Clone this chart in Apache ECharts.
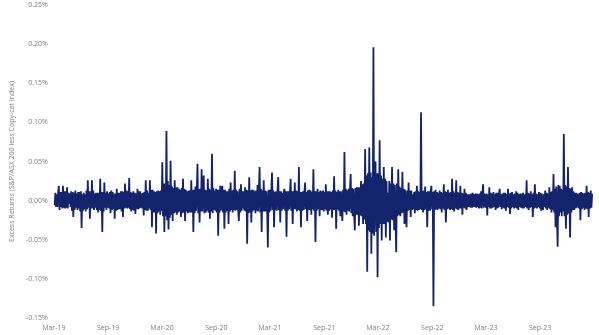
<!DOCTYPE html>
<html>
<head>
<meta charset="utf-8">
<script src="https://cdn.jsdelivr.net/npm/echarts@6/dist/echarts.min.js"></script>
<style>
html,body{margin:0;padding:0;background:#fff;}
#chart{width:599px;height:335px;}
</style>
</head>
<body>
<div id="chart"></div>
<script>
// Excess returns (%), three readings per week (start, early, late),
// first week starting 2019-03-04
const startDate = '2019-03-04';
const returns2019 = [
 -0.006, 0.008, 0.019, -0.008, 0.019, -0.010, 0.017, -0.004, 0.012, -0.021,
  0.013, -0.012, 0.011, -0.035, 0.010, -0.014, 0.026, -0.023, 0.026, -0.012,
  0.010, -0.015, 0.028, -0.040, 0.023, -0.012, 0.009, -0.016, 0.011, -0.023,
  0.015, -0.011, 0.012, -0.021, 0.022, -0.010, 0.029, -0.014, 0.012, -0.017,
  0.015, -0.010, 0.009, -0.019, 0.026, -0.013, 0.026, -0.034, 0.012, -0.042,
  0.013, -0.018
];
const early2019 = [
  0.010, -0.008, -0.012, 0.011, -0.009, 0.012, -0.010, 0.009, -0.013, 0.010,
 -0.009, 0.011, -0.014, 0.008, -0.011, 0.013, -0.009, 0.012, -0.010, 0.009,
 -0.012, 0.010, -0.013, 0.011, -0.009, 0.012, -0.010, 0.013, -0.011, 0.009,
 -0.012, 0.010, -0.014, 0.011, -0.009, 0.012, -0.011, 0.010, -0.013, 0.009,
 -0.011, 0.012, -0.010, 0.011, -0.013, 0.010, -0.012, 0.014, -0.015, 0.012,
 -0.014, 0.013
];
const late2019 = [
 -0.008, 0.009, 0.011, -0.010, 0.012, -0.009, 0.010, -0.008, 0.011, -0.012,
  0.009, -0.010, 0.012, -0.013, 0.008, -0.011, 0.012, -0.010, 0.013, -0.009,
  0.010, -0.012, 0.011, -0.014, 0.010, -0.009, 0.011, -0.012, 0.009, -0.013,
  0.010, -0.011, 0.012, -0.010, 0.013, -0.009, 0.011, -0.012, 0.010, -0.011,
  0.012, -0.009, 0.010, -0.012, 0.013, -0.010, 0.014, -0.015, 0.011, -0.016,
  0.012, -0.013
];
const returns2020 = [
  0.049, -0.040, 0.089, -0.037, 0.051, -0.026, 0.026, -0.018, 0.015, -0.021,
  0.028, -0.026, 0.012, -0.015, 0.026, -0.040, 0.018, 0.047, -0.028, 0.040,
  0.032, -0.015, 0.028, -0.023, 0.060, -0.012, 0.015, -0.045, 0.019, 0.019,
 -0.036, 0.012, -0.030, 0.023, -0.015, 0.038, -0.012, -0.026, 0.021, -0.010,
  0.017, -0.055, 0.030, -0.028, 0.014, -0.016, 0.020, 0.043, -0.040, 0.026,
 -0.014, -0.060
];
const early2020 = [
 -0.020, 0.022, -0.025, 0.020, -0.018, 0.016, -0.015, 0.017, -0.014, 0.016,
 -0.015, 0.014, -0.016, 0.013, -0.015, 0.014, -0.013, -0.016, 0.015, -0.014,
 -0.016, 0.013, -0.015, 0.014, -0.016, 0.013, -0.015, 0.014, -0.013, -0.015,
  0.014, -0.013, 0.015, -0.012, 0.014, -0.013, 0.012, 0.015, -0.013, 0.012,
 -0.014, 0.013, -0.015, 0.014, -0.012, 0.013, -0.014, -0.015, 0.013, -0.014,
  0.012, 0.014
];
const late2020 = [
  0.022, -0.020, 0.025, -0.022, 0.018, -0.016, 0.017, -0.015, 0.014, -0.016,
  0.015, -0.014, 0.013, -0.015, 0.014, -0.016, 0.013, 0.015, -0.014, 0.016,
  0.014, -0.013, 0.015, -0.014, 0.016, -0.013, 0.014, -0.015, 0.013, 0.014,
 -0.015, 0.012, -0.014, 0.013, -0.012, 0.014, -0.013, -0.015, 0.012, -0.013,
  0.014, -0.016, 0.013, -0.014, 0.012, -0.013, 0.014, 0.015, -0.014, 0.013,
 -0.012, -0.015
];
const returns2021 = [
  0.014, 0.036, -0.034, 0.012, 0.030, -0.028, 0.010, 0.015, -0.046, 0.012,
  0.028, -0.030, 0.023, -0.014, 0.043, -0.034, 0.012, 0.023, -0.026, 0.014,
 -0.018, 0.040, -0.053, 0.015, -0.020, 0.012, -0.014, 0.021, -0.018, 0.012,
 -0.022, 0.031, -0.036, 0.014, -0.020, -0.026, 0.062, -0.018, 0.015, 0.034,
 -0.020, -0.038, 0.017, -0.032, 0.025, -0.030, 0.066, -0.091, 0.068, -0.068,
  0.196, 0.050
];
const early2021 = [
 -0.013, -0.012, 0.011, -0.013, -0.012, 0.012, -0.011, -0.013, 0.012, -0.011,
 -0.013, 0.012, -0.011, 0.012, -0.013, 0.011, -0.012, -0.011, 0.013, -0.012,
  0.011, -0.013, 0.012, -0.011, 0.013, -0.012, 0.011, -0.013, 0.012, -0.011,
  0.013, -0.012, 0.011, -0.013, 0.012, 0.014, -0.015, 0.013, -0.014, -0.016,
  0.015, 0.016, -0.018, 0.017, -0.020, 0.022, -0.030, 0.035, -0.040, 0.030,
 -0.045, -0.040
];
const late2021 = [
  0.012, 0.013, -0.012, 0.011, 0.012, -0.013, 0.011, 0.012, -0.013, 0.011,
  0.012, -0.011, 0.013, -0.012, 0.011, -0.013, 0.012, 0.011, -0.012, 0.013,
 -0.011, 0.012, -0.013, 0.011, -0.012, 0.013, -0.011, 0.012, -0.013, 0.011,
 -0.012, 0.013, -0.011, 0.012, -0.013, -0.014, 0.015, -0.013, 0.014, 0.016,
 -0.016, -0.018, 0.017, -0.019, 0.021, -0.024, 0.032, -0.038, 0.036, -0.042,
  0.040, 0.035
];
const returns2022 = [
 -0.098, 0.077, -0.051, 0.043, -0.047, 0.010, -0.051, 0.043, -0.038, -0.066,
  0.040, -0.020, 0.037, -0.030, -0.034, 0.023, -0.021, 0.008, -0.016, 0.019,
 -0.012, 0.113, -0.015, 0.018, -0.034, 0.012, 0.019, -0.135, 0.014, -0.012,
  0.013, -0.015, 0.021, -0.028, 0.014, -0.012, 0.028, -0.014, 0.026, -0.012,
  0.019, -0.018, 0.015, -0.012, 0.008, -0.009, 0.010, -0.008, 0.009, -0.010,
  0.012, 0.021
];
const early2022 = [
  0.035, -0.030, 0.028, -0.030, 0.025, -0.028, 0.022, -0.025, 0.020, 0.022,
 -0.018, 0.016, -0.015, 0.014, 0.013, -0.012, 0.013, -0.011, 0.012, -0.013,
  0.011, -0.012, 0.013, -0.011, 0.012, -0.013, -0.011, 0.012, -0.011, 0.010,
 -0.011, 0.010, -0.012, 0.011, -0.010, 0.011, -0.012, 0.010, -0.011, 0.010,
 -0.010, 0.009, -0.010, 0.008, -0.008, 0.009, -0.008, 0.009, -0.008, 0.009,
 -0.010, -0.009
];
const late2022 = [
 -0.035, 0.032, -0.030, 0.028, -0.027, 0.025, -0.024, 0.022, -0.021, -0.020,
  0.018, -0.016, 0.015, -0.014, -0.013, 0.013, -0.012, 0.011, -0.012, 0.012,
 -0.011, 0.012, -0.012, 0.011, -0.013, 0.012, 0.011, -0.012, 0.011, -0.010,
  0.011, -0.010, 0.012, -0.011, 0.010, -0.011, 0.012, -0.010, 0.011, -0.010,
  0.010, -0.009, 0.010, -0.008, 0.008, -0.009, 0.008, -0.009, 0.008, -0.009,
  0.010, 0.009
];
const returns2023 = [
  0.008, -0.019, 0.017, -0.010, 0.011, -0.012, 0.010, 0.015, -0.011, 0.010,
 -0.013, 0.015, -0.017, 0.011, -0.010, 0.012, -0.012, 0.009, -0.010, -0.008,
  0.026, -0.012, 0.012, -0.021, 0.021, -0.010, 0.011, -0.013, -0.012, 0.013,
 -0.012, 0.017, -0.015, 0.034, -0.034, -0.059, 0.019, -0.020, 0.085, -0.036,
  0.043, -0.047, 0.017, -0.012, 0.010, 0.011, -0.025, 0.010, -0.012, 0.019,
 -0.021, 0.013
];
const early2023 = [
 -0.009, 0.008, -0.010, 0.009, -0.008, 0.010, -0.009, -0.008, 0.009, -0.010,
  0.008, -0.009, 0.010, -0.008, 0.009, -0.010, 0.008, -0.009, 0.010, 0.008,
 -0.010, 0.009, -0.008, 0.010, -0.009, 0.008, -0.010, 0.009, 0.008, -0.010,
  0.009, -0.011, 0.012, -0.015, 0.018, 0.020, -0.015, 0.014, -0.020, 0.018,
 -0.016, 0.015, -0.012, 0.010, -0.009, -0.010, 0.011, -0.009, 0.010, -0.011,
  0.010, -0.009
];
const late2023 = [
  0.009, -0.008, 0.010, -0.009, 0.008, -0.010, 0.009, 0.008, -0.009, 0.010,
 -0.008, 0.009, -0.010, 0.008, -0.009, 0.010, -0.008, 0.009, -0.010, -0.008,
  0.010, -0.009, 0.008, -0.010, 0.009, -0.008, 0.010, -0.009, -0.008, 0.010,
 -0.009, 0.011, -0.012, 0.015, -0.018, -0.020, 0.015, -0.014, 0.020, -0.018,
  0.016, -0.015, 0.012, -0.010, 0.009, 0.010, -0.011, 0.009, -0.010, 0.011,
 -0.010, 0.009
];
const tickDates = ['2019-03-01','2019-09-01','2020-03-01','2020-09-01','2021-03-01',
                   '2021-09-01','2022-03-01','2022-09-01','2023-03-01','2023-09-01'];
const tickLabels = ['Mar-19','Sep-19','Mar-20','Sep-20','Mar-21',
                    'Sep-21','Mar-22','Sep-22','Mar-23','Sep-23'];

const weekStart = [].concat(returns2019, returns2020, returns2021, returns2022, returns2023);
const weekEarly = [].concat(early2019, early2020, early2021, early2022, early2023);
const weekLate = [].concat(late2019, late2020, late2021, late2022, late2023);
const t0 = new Date(startDate).getTime();
const DAY = 86400000;
const seriesData = [];
weekStart.forEach((v, i) => {
  const t = t0 + i * 7 * DAY;
  seriesData.push([t, v]);
  if (i < weekEarly.length) seriesData.push([t + 2.33 * DAY, weekEarly[i]]);
  if (i < weekLate.length) seriesData.push([t + 4.67 * DAY, weekLate[i]]);
});
const tickTimes = tickDates.map(d => new Date(d).getTime());

const chart = echarts.init(document.getElementById('chart'), null, {renderer: 'canvas'});
const labelFont = {color: '#7f7f7f', fontSize: 7, fontFamily: 'Open Sans'};
chart.setOption({
  animation: false,
  backgroundColor: '#ffffff',
  grid: {left: 38, right: 5, top: 5, bottom: 17},
  xAxis: {
    type: 'value',
    min: new Date('2019-03-01').getTime(),
    max: new Date('2024-03-01').getTime(),
    scale: true,
    axisLine: {show: false, onZero: false},
    axisTick: {show: false},
    splitLine: {show: false},
    axisLabel: Object.assign({}, labelFont, {
      customValues: tickTimes,
      margin: 6,
      formatter: function (val) {
        const k = tickTimes.indexOf(val);
        return k >= 0 ? tickLabels[k] : '';
      }
    })
  },
  yAxis: {
    type: 'value',
    min: -0.15,
    max: 0.25,
    interval: 0.05,
    axisLine: {show: false},
    axisTick: {show: false},
    splitLine: {show: false},
    axisLabel: Object.assign({}, labelFont, {
      margin: 6,
      formatter: function (v) { return v.toFixed(2) + '%'; }
    }),
    name: 'Excess Returns (S&P/ASX 200 less Copy-cat Index)',
    nameLocation: 'middle',
    nameRotate: 90,
    nameGap: 29,
    nameTextStyle: {color: '#7f7f7f', fontSize: 7, fontFamily: 'Open Sans'}
  },
  series: [{
    type: 'line',
    data: seriesData,
    showSymbol: false,
    symbol: 'none',
    sampling: null,
    lineStyle: {color: '#13236c', width: 1.8},
    emphasis: {disabled: true}
  }]
});
</script>
</body>
</html>
